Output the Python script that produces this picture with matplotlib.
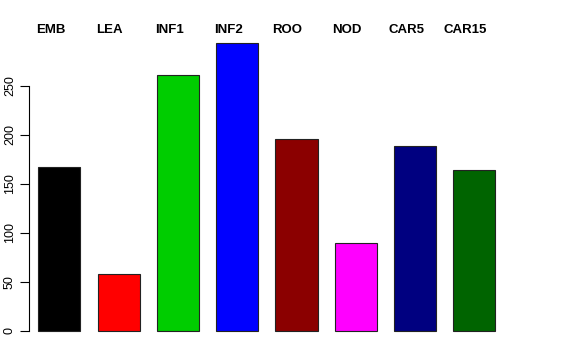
import matplotlib
matplotlib.use("Agg")
import matplotlib.pyplot as plt
import matplotlib.transforms as mtransforms
import numpy as np

samples = ["EMB", "LEA", "INF1", "INF2", "ROO", "NOD", "CAR5", "CAR15"]
counts = [167, 58, 261, 294, 196, 90, 189, 164]
colors = ["#000000", "#FF0000", "#00CD00", "#0000FF",
          "#8B0000", "#FF00FF", "#000080", "#006400"]

plt.rcParams["font.family"] = ["Liberation Sans", "DejaVu Sans"]

fig = plt.figure(figsize=(5.76, 3.6), dpi=100)
# plot region in pixels, R-like layout
ax = fig.add_axes([29.3 / 576, 1 - 342.5 / 360, (510 - 29.3) / 576, (342.5 - 31.3) / 360])

pos = np.arange(len(counts))
ax.bar(pos, counts, width=0.71, color=colors, edgecolor="#222222", linewidth=0.8)

pitch = 59.3  # pixels per bar slot
ax.set_xlim((29.3 - 59.3) / pitch, (510 - 59.3) / pitch)
ymax = max(counts)
ax.set_ylim(-0.04 * ymax, 1.04 * ymax)

for s in ["top", "right", "bottom"]:
    ax.spines[s].set_visible(False)
ax.spines["left"].set_bounds(0, 250)
ax.spines["left"].set_linewidth(0.8)
ax.set_xticks([])
ax.set_yticks([0, 50, 100, 150, 200, 250])
ax.tick_params(axis="y", length=6.2, width=0.8, pad=3.5, labelsize=9)
for lbl in ax.get_yticklabels():
    lbl.set_rotation(90)
    lbl.set_va("center")

# sample names along the top
trans = mtransforms.blended_transform_factory(ax.transData, fig.transFigure)
for x, name in zip(pos - 0.15, samples):
    ax.text(x, 1 - 30 / 360, name, transform=trans, ha="center", va="center",
            fontsize=9.5, fontweight="bold", clip_on=False)

fig.savefig("out.png", dpi=100)
